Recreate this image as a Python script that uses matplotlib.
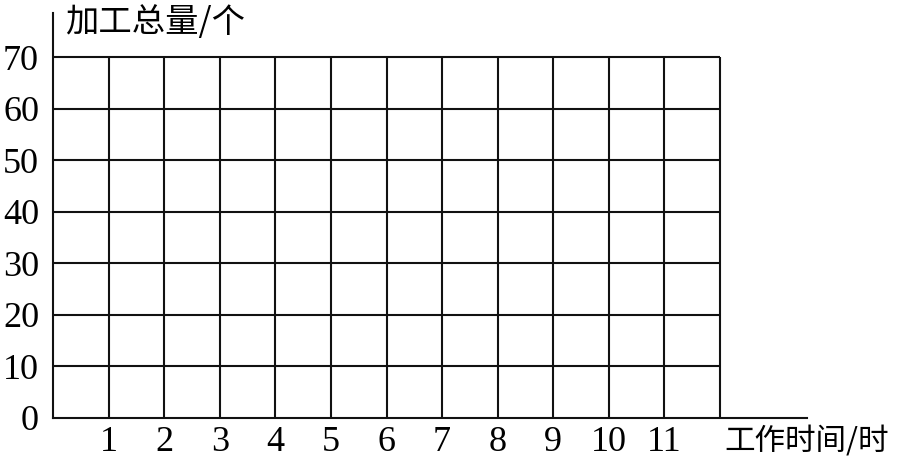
import matplotlib
matplotlib.use("Agg")
import matplotlib.pyplot as plt

# grid values
hours = [0, 1, 2, 3, 4, 5, 6, 7, 8, 9, 10, 11, 12]
totals = [0, 10, 20, 30, 40, 50, 60, 70]
x_tick_labels = ["1", "2", "3", "4", "5", "6", "7", "8", "9", "10", "11"]
y_tick_labels = ["0", "10", "20", "30", "40", "50", "60", "70"]
x_label = "工作时间/时"
y_label = "加工总量/个"

W, H = 910, 459
fig = plt.figure(figsize=(W / 100, H / 100), dpi=100)

# axes box in pixels: left 53, right 807, top 13, bottom 418
left, right, top, bottom = 53, 807, 13, 418
ax = fig.add_axes([left / W, (H - bottom) / H, (right - left) / W, (bottom - top) / H])

unit_x = (720 - 53) / 12
unit_y = (418 - 57) / 70
ax.set_xlim(0, (right - left) / unit_x)
ax.set_ylim(0, (bottom - top) / unit_y)

lw = 1.5
col = "#111111"
ax.vlines(hours[1:], totals[0], totals[-1], colors=col, linewidth=lw)
ax.hlines(totals[1:], hours[0], hours[-1], colors=col, linewidth=lw)

for s in ["top", "right"]:
    ax.spines[s].set_visible(False)
for s in ["left", "bottom"]:
    ax.spines[s].set_linewidth(lw)
    ax.spines[s].set_color(col)

serif = ["Liberation Serif", "DejaVu Serif"]
ax.set_xticks(hours[1:12])
ax.set_xticklabels(x_tick_labels, fontfamily=serif, fontsize=26)
ax.set_yticks(totals)
ax.set_yticklabels(y_tick_labels, fontfamily=serif, fontsize=26)
ax.tick_params(axis="x", length=0, pad=6)
ax.tick_params(axis="y", length=0, pad=10)

cjk = ["Noto Sans CJK SC", "DejaVu Sans"]
fig.text(65 / W, 1 - 23 / H, y_label, ha="left", va="center", fontsize=24, family=cjk)
fig.text(724 / W, 1 - 441 / H, x_label, ha="left", va="center", fontsize=22, family=cjk)

fig.savefig("out.png", dpi=100)
